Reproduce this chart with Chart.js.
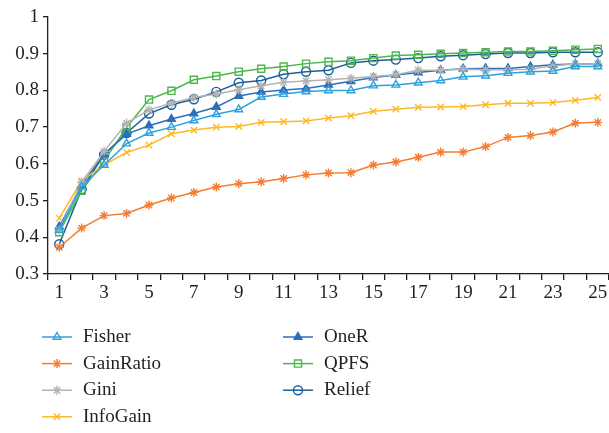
<!DOCTYPE html>
<html>
<head>
<meta charset="utf-8">
<script src="https://cdn.jsdelivr.net/npm/chart.js@4"></script>
<style>
  html, body { margin: 0; padding: 0; background: #fff; }
  #wrap { width: 609px; height: 433px; position: relative; }
</style>
</head>
<body>
<div id="wrap"><canvas id="featureChart"></canvas></div>
<script>
// Data
const categories = ["1","2","3","4","5","6","7","8","9","10","11","12","13","14","15","16","17","18","19","20","21","22","23","24","25"];
const yTicks = [0.3, 0.4, 0.5, 0.6, 0.7, 0.8, 0.9, 1];

const fisher = [0.42, 0.538, 0.597, 0.655, 0.684, 0.70, 0.718, 0.735, 0.748, 0.782, 0.79, 0.797, 0.80, 0.80, 0.813, 0.815, 0.821, 0.827, 0.837, 0.84, 0.847, 0.851, 0.853, 0.865, 0.865];
const gainRatio = [0.373, 0.425, 0.459, 0.465, 0.488, 0.507, 0.522, 0.537, 0.546, 0.551, 0.56, 0.57, 0.575, 0.576, 0.597, 0.605, 0.618, 0.632, 0.632, 0.647, 0.672, 0.677, 0.687, 0.711, 0.713];
const gini = [0.42, 0.55, 0.634, 0.711, 0.747, 0.765, 0.781, 0.79, 0.802, 0.813, 0.822, 0.826, 0.829, 0.833, 0.838, 0.843, 0.855, 0.855, 0.858, 0.856, 0.856, 0.858, 0.867, 0.872, 0.873];
const infoGain = [0.452, 0.554, 0.597, 0.631, 0.651, 0.682, 0.692, 0.70, 0.702, 0.713, 0.715, 0.717, 0.725, 0.731, 0.743, 0.749, 0.754, 0.755, 0.756, 0.761, 0.765, 0.765, 0.767, 0.773, 0.781];
const oneR = [0.429, 0.543, 0.626, 0.681, 0.704, 0.722, 0.737, 0.755, 0.785, 0.796, 0.801, 0.805, 0.815, 0.825, 0.835, 0.842, 0.849, 0.855, 0.859, 0.86, 0.86, 0.865, 0.87, 0.872, 0.873];
const qpfs = [0.414, 0.527, 0.608, 0.699, 0.775, 0.799, 0.829, 0.839, 0.851, 0.859, 0.865, 0.873, 0.878, 0.881, 0.888, 0.895, 0.897, 0.90, 0.902, 0.904, 0.906, 0.906, 0.908, 0.911, 0.913];
const relief = [0.381, 0.531, 0.625, 0.684, 0.737, 0.761, 0.776, 0.796, 0.821, 0.827, 0.844, 0.851, 0.855, 0.875, 0.881, 0.884, 0.888, 0.893, 0.896, 0.899, 0.902, 0.902, 0.904, 0.904, 0.904];

const serif = "'Liberation Serif', 'DejaVu Serif', serif";
const textColor = "#231f20";

function series(label, data, color, pointStyle, filled, radius) {
  return {
    label: label,
    data: data,
    borderColor: color,
    backgroundColor: color,
    pointBackgroundColor: filled ? color : "rgba(255,255,255,0)",
    pointBorderColor: color,
    pointStyle: pointStyle,
    pointRadius: radius || 4.5,
    pointBorderWidth: 1.4,
    borderWidth: 1.5,
    tension: 0,
  };
}

const datasets = [
  series("Fisher", fisher, "#2ea2dd", "triangle", false),
  series("GainRatio", gainRatio, "#f47d32", "star", false),
  series("Gini", gini, "#b4b4b4", "star", false),
  series("InfoGain", infoGain, "#fdb827", "crossRot", false),
  series("OneR", oneR, "#2c6fb9", "triangle", true),
  series("QPFS", qpfs, "#4cb74a", "rect", false, 5),
  series("Relief", relief, "#1b5f98", "circle", false),
];

// legend in two columns below the plot, filled column by column
const columnLegend = {
  id: "columnLegend",
  afterDraw(chart) {
    const ctx = chart.ctx;
    const colX = [42, 283];
    const rowY = 337;
    const rowH = 26.6;
    ctx.save();
    ctx.font = "19px " + serif;
    ctx.textBaseline = "middle";
    ctx.textAlign = "left";
    chart.data.datasets.forEach((ds, i) => {
      const col = i < 4 ? 0 : 1;
      const row = i < 4 ? i : i - 4;
      const x = colX[col];
      const y = rowY + row * rowH;
      ctx.strokeStyle = ds.borderColor;
      ctx.lineWidth = 1.5;
      ctx.beginPath();
      ctx.moveTo(x, y);
      ctx.lineTo(x + 30, y);
      ctx.stroke();
      ctx.fillStyle = ds.pointBackgroundColor;
      ctx.strokeStyle = ds.pointBorderColor;
      ctx.lineWidth = 1.4;
      Chart.helpers.drawPoint(ctx, { pointStyle: ds.pointStyle, radius: ds.pointRadius, rotation: 0, borderWidth: 1.4 }, x + 15, y);
      ctx.fillStyle = textColor;
      ctx.fillText(ds.label, x + 41, y);
    });
    ctx.restore();
  },
};

const ctx = document.getElementById("featureChart").getContext("2d");
new Chart(ctx, {
  type: "line",
  data: { labels: categories, datasets: datasets },
  plugins: [columnLegend],
  options: {
    responsive: true,
    maintainAspectRatio: false,
    animation: false,
    layout: { autoPadding: false, padding: { top: 17, right: -1.5, bottom: 122, left: 0 } },
    plugins: {
      legend: { display: false },
      tooltip: { enabled: false },
    },
    scales: {
      x: {
        type: "category",
        offset: true,
        border: { color: "#231f20", width: 1.3 },
        grid: { display: true, drawOnChartArea: false, offset: true, color: "#231f20", tickLength: 6, lineWidth: 1.3 },
        ticks: {
          autoSkip: false,
          maxRotation: 0,
          color: textColor,
          font: { family: serif, size: 19 },
          padding: 2,
          callback: (v, i) => (i % 2 === 0 ? categories[i] : ""),
        },
        afterFit: (scale) => { scale.height = 37; scale.paddingRight = 0; scale.paddingLeft = 0; },
      },
      y: {
        min: yTicks[0],
        max: yTicks[yTicks.length - 1],
        border: { color: "#231f20", width: 1.3 },
        grid: { display: true, drawOnChartArea: false, color: "#231f20", tickLength: 5, lineWidth: 1.3 },
        afterBuildTicks: (scale) => { scale.ticks = yTicks.map((v) => ({ value: v })); },
        ticks: {
          color: textColor,
          font: { family: serif, size: 19 },
          padding: 4,
          callback: (v) => String(Number(v.toFixed(1))),
        },
        afterFit: (scale) => { scale.width = 48; scale.paddingTop = 0; scale.paddingBottom = 0; },
      },
    },
  },
});
</script>
</body>
</html>
